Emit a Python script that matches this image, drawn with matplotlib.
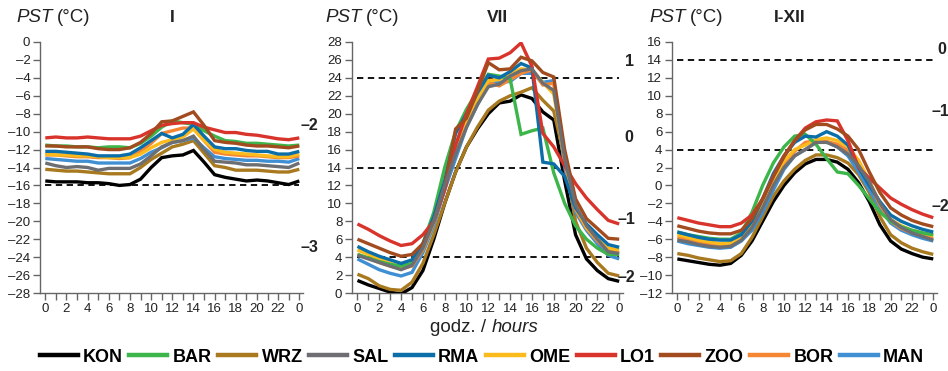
import matplotlib
matplotlib.use("Agg")
import matplotlib.pyplot as plt
from matplotlib.ticker import FixedLocator

plt.rcParams['font.family'] = ['Liberation Sans', 'DejaVu Sans']

hours = list(range(25))
hour_labels = ['0', '2', '4', '6', '8', '10', '12', '14', '16', '18', '20', '22', '0']

stations = ['KON', 'BAR', 'WRZ', 'SAL', 'RMA', 'OME', 'LO1', 'ZOO', 'BOR', 'MAN']
colors = {'KON': '#000000', 'BAR': '#3cb54a', 'WRZ': '#a8791e', 'SAL': '#6d6e71',
          'RMA': '#0b6ea8', 'OME': '#fbbb1c', 'LO1': '#d9342b', 'ZOO': '#a24b1f',
          'BOR': '#f58634', 'MAN': '#3f8fd2'}
draw_order = ['KON', 'WRZ', 'MAN', 'BOR', 'OME', 'BAR', 'RMA', 'LO1', 'ZOO', 'SAL']

# January (I)
jan_KON = [-15.5, -15.6, -15.6, -15.6, -15.7, -15.7, -15.8, -16.0, -15.9, -15.3, -14.0, -12.9, -12.7,
           -12.6, -12.1, -13.4, -14.8, -15.1, -15.3, -15.5, -15.4, -15.5, -15.7, -15.9, -15.5]
jan_BAR = [-11.5, -11.6, -11.6, -11.7, -11.7, -11.8, -11.7, -11.7, -11.8, -11.3, -10.5, -9.5, -8.8,
           -9.0, -9.2, -9.9, -10.5, -11.0, -11.1, -11.3, -11.3, -11.4, -11.5, -11.6, -11.5]
jan_WRZ = [-14.2, -14.3, -14.4, -14.4, -14.5, -14.6, -14.7, -14.7, -14.7, -14.0, -13.1, -12.4, -11.7,
           -11.4, -11.0, -12.4, -13.8, -14.0, -14.3, -14.3, -14.3, -14.4, -14.5, -14.5, -14.2]
jan_SAL = [-13.5, -13.8, -14.0, -13.9, -14.0, -14.3, -14.1, -14.1, -14.1, -13.6, -12.7, -11.7, -11.2,
           -11.0, -10.5, -12.0, -13.3, -13.4, -13.5, -13.7, -13.7, -13.8, -13.9, -14.0, -13.5]
jan_RMA = [-12.2, -12.2, -12.3, -12.4, -12.5, -12.7, -12.7, -12.7, -12.5, -11.8, -11.0, -10.2, -10.7,
           -10.3, -9.2, -10.5, -11.7, -11.9, -11.9, -12.1, -12.2, -12.2, -12.5, -12.5, -12.2]
jan_OME = [-12.5, -12.6, -12.6, -12.7, -12.7, -12.8, -12.9, -12.9, -12.9, -12.5, -11.8, -11.2, -10.9,
           -10.6, -9.7, -11.0, -12.0, -12.3, -12.4, -12.5, -12.6, -12.7, -12.8, -12.8, -12.5]
jan_LO1 = [-10.7, -10.6, -10.7, -10.7, -10.6, -10.7, -10.8, -10.8, -10.8, -10.5, -9.9, -9.3, -9.1,
           -9.0, -9.0, -9.5, -9.8, -10.1, -10.1, -10.3, -10.4, -10.6, -10.8, -10.9, -10.7]
jan_ZOO = [-11.6, -11.6, -11.7, -11.7, -11.7, -11.9, -12.0, -12.0, -11.8, -11.2, -10.2, -8.9, -8.8,
           -8.3, -7.8, -9.3, -11.0, -11.2, -11.3, -11.5, -11.6, -11.6, -11.7, -11.8, -11.6]
jan_BOR = [-12.6, -12.6, -12.7, -12.8, -12.8, -12.9, -12.9, -13.0, -12.9, -12.2, -11.3, -10.2, -9.9,
           -9.6, -9.6, -11.0, -12.3, -12.5, -12.6, -12.7, -12.7, -12.8, -12.9, -12.9, -12.7]
jan_MAN = [-13.0, -13.1, -13.2, -13.3, -13.3, -13.5, -13.5, -13.5, -13.5, -13.0, -12.3, -11.8, -11.2,
           -11.0, -10.7, -11.8, -12.8, -13.0, -13.1, -13.2, -13.2, -13.3, -13.3, -13.4, -13.0]

# July (VII)
jul_KON = [1.4, 0.9, 0.5, 0.1, -0.1, 0.6, 2.5, 6.0, 10.0, 13.5, 16.3, 18.3, 20.0, 21.2, 21.4, 22.1,
           21.7, 20.2, 19.3, 12.5, 6.5, 3.8, 2.5, 1.6, 1.3]
jul_BAR = [4.3, 3.9, 3.5, 3.2, 3.0, 3.3, 5.5, 9.0, 14.0, 18.0, 20.5, 22.5, 24.4, 24.2, 23.9, 17.7,
           18.1, 18.4, 13.4, 10.0, 7.5, 6.0, 5.0, 4.3, 4.3]
jul_WRZ = [2.1, 1.6, 0.8, 0.4, 0.3, 1.2, 3.3, 6.5, 10.0, 13.5, 16.3, 18.5, 20.4, 21.4, 22.0, 22.4,
           22.9, 21.5, 20.3, 15.0, 8.0, 5.0, 3.4, 2.2, 1.9]
jul_SAL = [4.2, 3.8, 3.4, 3.0, 2.6, 3.1, 5.0, 8.0, 12.0, 15.5, 18.5, 21.0, 23.0, 23.3, 24.2, 24.8,
           25.0, 23.4, 22.6, 15.0, 9.8, 7.5, 6.0, 4.6, 4.4]
jul_RMA = [5.2, 4.6, 4.1, 3.7, 3.3, 3.7, 5.5, 8.5, 12.5, 17.8, 20.0, 22.3, 24.3, 24.0, 24.7, 25.6,
           25.1, 14.6, 14.4, 13.0, 9.5, 7.7, 6.5, 5.4, 5.1]
jul_OME = [4.8, 4.3, 3.8, 3.3, 2.9, 3.3, 5.0, 8.0, 12.0, 16.0, 19.0, 21.5, 23.7, 23.8, 24.5, 25.0,
           24.9, 23.5, 22.2, 15.0, 9.5, 7.3, 6.0, 5.0, 4.8]
jul_LO1 = [7.7, 7.1, 6.4, 5.8, 5.3, 5.5, 6.5, 8.0, 11.5, 16.5, 20.0, 23.0, 26.1, 26.2, 26.8, 27.9,
           25.3, 17.8, 16.3, 14.2, 12.2, 10.6, 9.3, 8.1, 7.7]
jul_ZOO = [6.0, 5.5, 5.0, 4.5, 4.1, 4.3, 5.5, 8.0, 12.0, 18.3, 19.5, 22.5, 25.7, 24.9, 25.0, 26.3,
           25.9, 24.6, 24.1, 16.0, 10.5, 8.3, 7.2, 6.1, 6.0]
jul_BOR = [4.3, 3.9, 3.4, 3.0, 2.7, 3.0, 4.8, 7.8, 11.8, 16.2, 19.0, 21.5, 23.5, 23.1, 23.8, 24.5,
           24.9, 23.2, 23.4, 14.5, 9.3, 7.2, 5.8, 4.7, 4.5]
jul_MAN = [3.8, 3.2, 2.6, 2.2, 1.9, 2.3, 4.5, 7.5, 11.5, 15.0, 18.5, 21.0, 23.3, 23.5, 23.6, 24.5,
           24.5, 23.5, 23.7, 14.0, 9.0, 7.0, 5.5, 4.2, 3.8]

# Year (I-XII)
year_KON = [-8.2, -8.4, -8.6, -8.8, -8.9, -8.7, -7.8, -6.2, -4.0, -1.8, 0.0, 1.4, 2.4, 2.9, 2.9, 2.6,
            1.8, 0.3, -1.8, -4.4, -6.2, -7.1, -7.6, -8.0, -8.2]
year_BAR = [-5.2, -5.5, -5.7, -5.9, -6.0, -6.0, -5.3, -3.0, 0.0, 2.5, 4.3, 5.5, 5.7, 4.6, 3.0, 1.5,
            1.3, 0.0, -1.5, -3.0, -4.0, -4.6, -5.0, -5.3, -5.5]
year_WRZ = [-7.6, -7.8, -8.1, -8.3, -8.5, -8.4, -7.6, -5.8, -3.5, -1.2, 0.5, 1.8, 2.8, 3.4, 3.4, 3.1,
            2.5, 1.2, -0.8, -3.5, -5.5, -6.4, -7.0, -7.4, -7.7]
year_SAL = [-6.1, -6.3, -6.6, -6.8, -6.9, -6.8, -6.1, -4.7, -2.5, 0.0, 2.0, 3.3, 4.0, 4.8, 4.8, 4.3,
            3.5, 2.2, 0.4, -2.0, -3.8, -4.7, -5.3, -5.7, -6.1]
year_RMA = [-5.2, -5.5, -5.8, -6.0, -6.1, -6.1, -5.5, -4.0, -1.5, 1.3, 3.3, 4.8, 5.5, 5.4, 6.0, 5.5,
            4.5, 2.0, 0.0, -1.8, -3.3, -4.0, -4.5, -4.9, -5.2]
year_OME = [-5.5, -5.8, -6.1, -6.3, -6.5, -6.4, -5.8, -4.3, -2.0, 0.7, 2.7, 4.0, 4.5, 5.1, 5.3, 5.0,
            4.3, 2.8, 0.5, -2.0, -3.8, -4.5, -5.0, -5.3, -5.6]
year_LO1 = [-3.6, -3.9, -4.2, -4.4, -4.6, -4.6, -4.2, -3.3, -1.5, 1.0, 3.3, 5.0, 6.4, 7.1, 7.3, 7.2,
            5.0, 2.0, 0.8, -0.3, -1.4, -2.1, -2.7, -3.2, -3.6]
year_ZOO = [-4.5, -4.8, -5.1, -5.3, -5.4, -5.4, -5.0, -3.7, -1.5, 1.0, 3.2, 5.0, 6.2, 6.8, 6.8, 6.3,
            5.5, 4.0, 1.5, -0.8, -2.5, -3.3, -3.9, -4.3, -4.6]
year_BOR = [-5.8, -6.1, -6.4, -6.6, -6.8, -6.7, -6.0, -4.5, -2.2, 0.5, 2.5, 3.8, 4.8, 5.0, 4.9, 4.6,
            3.9, 2.5, 0.3, -2.2, -4.0, -4.8, -5.3, -5.6, -5.9]
year_MAN = [-6.2, -6.5, -6.7, -6.9, -7.0, -6.9, -6.2, -5.0, -3.0, -0.5, 1.8, 3.3, 4.0, 4.8, 4.9, 4.3,
            3.3, 1.5, -0.5, -2.5, -4.2, -5.0, -5.5, -5.9, -6.2]

jan = dict(KON=jan_KON, BAR=jan_BAR, WRZ=jan_WRZ, SAL=jan_SAL, RMA=jan_RMA, OME=jan_OME,
           LO1=jan_LO1, ZOO=jan_ZOO, BOR=jan_BOR, MAN=jan_MAN)
jul = dict(KON=jul_KON, BAR=jul_BAR, WRZ=jul_WRZ, SAL=jul_SAL, RMA=jul_RMA, OME=jul_OME,
           LO1=jul_LO1, ZOO=jul_ZOO, BOR=jul_BOR, MAN=jul_MAN)
year = dict(KON=year_KON, BAR=year_BAR, WRZ=year_WRZ, SAL=year_SAL, RMA=year_RMA, OME=year_OME,
            LO1=year_LO1, ZOO=year_ZOO, BOR=year_BOR, MAN=year_MAN)

panels = [
    dict(data=jan, title='I', ylim=(-28, 0), dashed=[-16],
         classes=[('–2', 309, 126), ('–3', 309, 247)]),
    dict(data=jul, title='VII', ylim=(0, 28), dashed=[24, 14, 4],
         classes=[('1', 629, 62), ('0', 629, 137), ('–1', 626, 220), ('–2', 626, 277)]),
    dict(data=year, title='I-XII', ylim=(-12, 16), dashed=[14, 4],
         classes=[('0', 942, 49), ('–1', 940, 111), ('–2', 940, 207)]),
]

W, H = 948, 371
fig = plt.figure(figsize=(W / 100, H / 100), dpi=100)

# axes boxes in pixels: left spine, right end, title x positions
boxes = [(40, 303, 16, 172), (352, 623, 325, 497), (672, 937, 649, 790)]
top_px, bot_px = 42, 293

spine_col = '#666666'
txt_col = '#222222'
for p, (lpx, rpx, ptx, ttx) in zip(panels, boxes):
    ax = fig.add_axes([lpx / W, 1 - bot_px / H, (rpx - lpx) / W, (bot_px - top_px) / H])
    for st in draw_order:
        ax.plot(hours, p['data'][st], color=colors[st], lw=2.4, solid_joinstyle='miter',
                solid_capstyle='butt', zorder=3)
    for d in p['dashed']:
        ax.plot([hours[0], hours[-1]], [d, d], color='black', lw=1.3, ls=(0, (3.5, 2.5)), zorder=2)
    ax.set_ylim(*p['ylim'])
    ax.set_xlim(-0.5, 24.35)
    ylocs = list(range(p['ylim'][0], p['ylim'][1] + 1, 2))
    ax.set_yticks(ylocs)
    ax.set_yticklabels([str(v).replace('-', '–') for v in ylocs])
    ax.set_xticks(list(range(0, 25, 2)))
    ax.set_xticklabels(hour_labels)
    ax.xaxis.set_minor_locator(FixedLocator(list(range(1, 25, 2))))
    for s in ['top', 'right']:
        ax.spines[s].set_visible(False)
    for s in ['left', 'bottom']:
        ax.spines[s].set_color(spine_col)
        ax.spines[s].set_linewidth(1.0)
    ax.tick_params(axis='both', which='both', direction='out', color=spine_col, width=1.0,
                   labelsize=9.5, labelcolor=txt_col)
    ax.tick_params(axis='both', which='major', length=5, pad=2)
    ax.tick_params(axis='x', which='minor', length=5)
    fig.text(ptx / W, 1 - 17 / H, 'PST', fontsize=13.5, style='italic', va='center', ha='left',
             color=txt_col)
    fig.text((ptx + 41) / W, 1 - 17 / H, '(°C)', fontsize=13.5, va='center', ha='left', color=txt_col)
    fig.text(ttx / W, 1 - 17 / H, p['title'], fontsize=12.5, fontweight='bold', va='center',
             ha='center', color=txt_col)
    for lab, x, y in p['classes']:
        fig.text(x / W, 1 - y / H, lab, fontsize=11.5, fontweight='bold', va='center', ha='center',
                 color=txt_col)

fig.text(491 / W, 1 - 327 / H, 'godz. / ', fontsize=13.5, va='center', ha='right', color=txt_col)
fig.text(492 / W, 1 - 327 / H, 'hours', fontsize=13.5, style='italic', va='center', ha='left',
         color=txt_col)

handles = [plt.Line2D([], [], color=colors[s], lw=3.2) for s in stations]
fig.legend(handles, stations, loc='center', bbox_to_anchor=(482 / W, 1 - 357 / H), ncol=10,
           frameon=False, handlelength=2.1, handletextpad=0.3, columnspacing=0.35,
           borderpad=0, prop={'weight': 'bold', 'size': 13})

fig.savefig('out.png', dpi=100)
